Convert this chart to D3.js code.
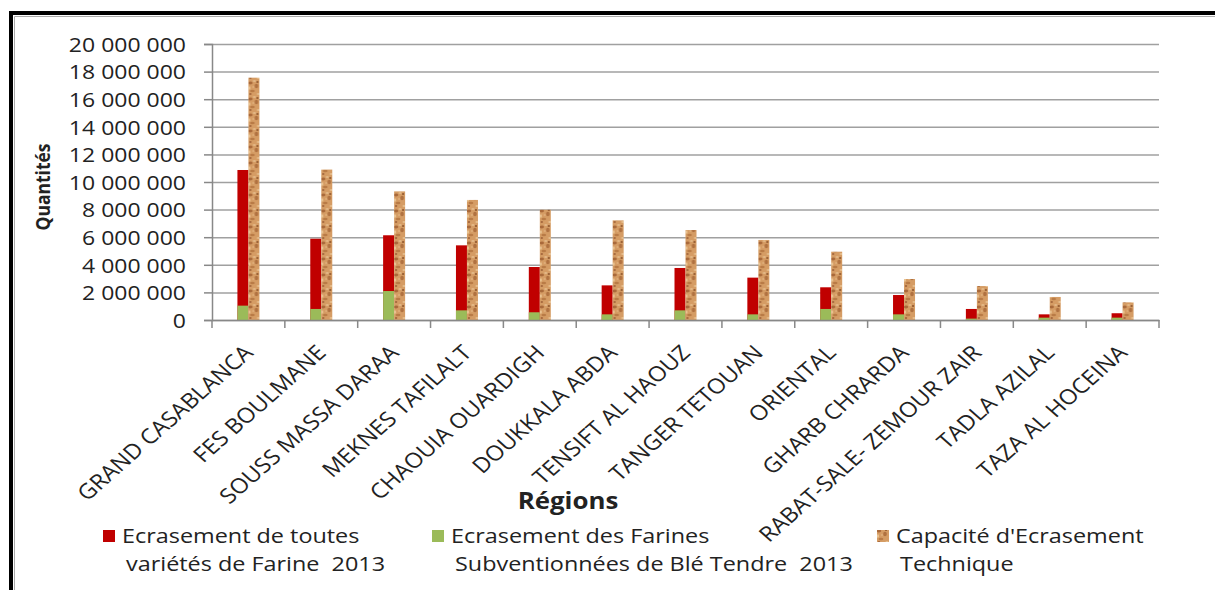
<!DOCTYPE html>
<html>
<head>
<meta charset="utf-8">
<script src="https://cdn.jsdelivr.net/npm/d3@7"></script>
<style>
  body { margin: 0; background: #fff; }
  text { font-family: 'Open Sans', sans-serif; fill: #222; white-space: pre; }
</style>
</head>
<body>
<svg id="chart" width="1215" height="590"></svg>
<script>
// data
const regions = ['GRAND CASABLANCA', 'FES BOULMANE', 'SOUSS MASSA DARAA', 'MEKNES TAFILALT',
  'CHAOUIA OUARDIGH', 'DOUKKALA ABDA', 'TENSIFT AL HAOUZ', 'TANGER TETOUAN', 'ORIENTAL',
  'GHARB CHRARDA', 'RABAT-SALE- ZEMOUR ZAIR', 'TADLA AZILAL', 'TAZA AL HOCEINA'];
const ecrasementToutes = [10870000, 5890000, 6140000, 5410000, 3840000, 2510000, 3770000,
  3070000, 2370000, 1810000, 800000, 410000, 490000];
const ecrasementSubv = [1040000, 800000, 2100000, 700000, 560000, 410000, 700000,
  410000, 800000, 410000, 100000, 170000, 170000];
const capacite = [17560000, 10900000, 9320000, 8700000, 7990000, 7220000, 6520000,
  5800000, 4950000, 2970000, 2460000, 1670000, 1280000];
const yTicks = d3.range(0, 20000001, 2000000);
const legendLabels = [
  ['Ecrasement de toutes', 'variétés de Farine  2013'],
  ['Ecrasement des Farines', 'Subventionnées de Blé Tendre  2013'],
  ["Capacité d'Ecrasement", 'Technique']
];

const SX = 1.13; // the whole source picture is stretched sideways
const plotL = 212, plotR = 1159, plotT = 44, plotB = 320;

const svg = d3.select('#chart');
const defs = svg.append('defs');

// cork-like texture for the capacity bars
const cork = defs.append('pattern')
  .attr('id', 'cork')
  .attr('patternUnits', 'userSpaceOnUse')
  .attr('width', 12).attr('height', 16);
cork.append('rect').attr('width', 12).attr('height', 16).attr('fill', '#d59c64');
[[2, 3, 2.2, 1.4, '#a9693a'], [8, 6, 1.8, 2.2, '#b07140'], [4, 11, 2.4, 1.3, '#b97b46'],
 [10, 14, 1.6, 1.1, '#e7bf8d'], [6, 1, 1.7, 1, '#e4b987'], [1, 8, 1.1, 1.8, '#e9c290'],
 [9, 2, 1.1, 1, '#8f552c'], [5, 7, 1, 1, '#e0b07c'], [2, 14, 1.2, 1, '#a2643a']]
  .forEach(([cx, cy, rx, ry, c]) => {
    cork.append('ellipse').attr('cx', cx).attr('cy', cy).attr('rx', rx).attr('ry', ry).attr('fill', c);
  });

svg.append('rect').attr('width', 1215).attr('height', 590).attr('fill', '#fff');

// frame (top and left only are visible)
svg.append('path').attr('d', 'M11,590V13H1215').attr('fill', 'none')
  .attr('stroke', '#000').attr('stroke-width', 4);
svg.append('path').attr('d', 'M14.5,590V16.5H1215').attr('fill', 'none')
  .attr('stroke', '#aaa').attr('stroke-width', 1);

const x = d3.scaleBand().domain(regions).range([plotL, plotR]).padding(0);
const y = d3.scaleLinear().domain([0, 20000000]).range([plotB, plotT]);
const slot = d3.scaleBand().domain(['a', 'b']).range([-11, 11]);

// gridlines
svg.append('g')
  .attr('transform', `translate(${plotL},0)`)
  .call(d3.axisLeft(y).tickValues(yTicks).tickSize(-(plotR - plotL)).tickFormat(''))
  .call(g => g.select('.domain').remove())
  .call(g => g.selectAll('line').attr('stroke', '#a0a0a0').attr('stroke-width', 1.5));

// y axis
const fmt = v => d3.format(',')(v).replace(/,/g, ' ');
svg.append('g')
  .attr('transform', `translate(${plotL},0)`)
  .call(d3.axisLeft(y).tickValues(yTicks).tickSize(8).tickFormat(fmt))
  .call(g => g.select('.domain').attr('stroke', '#888').attr('stroke-width', 1.5))
  .call(g => g.selectAll('line').attr('stroke', '#888').attr('stroke-width', 1.5))
  .call(g => g.selectAll('text')
    .attr('x', 0)
    .attr('dy', '0.36em')
    .attr('transform', 'translate(-26,0) scale(1.15,1)')
    .style('font-family', "'Open Sans', sans-serif")
    .style('font-size', '20px')
    .attr('fill', '#222'));

// bars
const cat = svg.append('g');
const groups = cat.selectAll('g').data(regions).join('g')
  .attr('transform', d => `translate(${x(d) + x.bandwidth() / 2},0)`);

groups.append('rect')
  .attr('x', slot('a')).attr('width', slot.bandwidth())
  .attr('y', (d, i) => y(ecrasementToutes[i]))
  .attr('height', (d, i) => y(0) - y(ecrasementToutes[i]))
  .attr('fill', '#c00000');
groups.append('rect')
  .attr('x', slot('a')).attr('width', slot.bandwidth())
  .attr('y', (d, i) => y(ecrasementSubv[i]))
  .attr('height', (d, i) => y(0) - y(ecrasementSubv[i]))
  .attr('fill', '#9bbb59');
groups.append('rect')
  .attr('x', slot('b')).attr('width', slot.bandwidth())
  .attr('y', (d, i) => y(capacite[i]))
  .attr('height', (d, i) => y(0) - y(capacite[i]))
  .attr('fill', 'url(#cork)');

// x axis; labels rotated, then stretched sideways like the source
const xAxis = svg.append('g')
  .attr('transform', `translate(0,${plotB})`)
  .call(d3.axisBottom(x).tickSize(0).tickPadding(0));
xAxis.select('.domain').attr('stroke', '#888').attr('stroke-width', 1.5);
xAxis.selectAll('text')
  .attr('text-anchor', 'end')
  .attr('y', 0).attr('dy', 0)
  .attr('transform', `translate(6,34) scale(${SX},1) rotate(-45)`)
  .style('font-family', "'Open Sans', sans-serif")
  .style('font-size', '21px')
  .attr('fill', '#222');
xAxis.selectAll('.bound').data(d3.range(regions.length + 1)).join('line')
  .attr('class', 'bound')
  .attr('x1', i => plotL + i * x.step()).attr('x2', i => plotL + i * x.step())
  .attr('y1', 0).attr('y2', 8)
  .attr('stroke', '#888').attr('stroke-width', 1.5);

// axis titles
svg.append('text')
  .attr('transform', `translate(50,187) scale(${SX},1) rotate(-90)`)
  .attr('text-anchor', 'middle')
  .style('font-weight', 'bold').style('font-size', '17.5px')
  .text('Quantités');
svg.append('text')
  .attr('transform', 'translate(568,509) scale(1.1,1)')
  .attr('text-anchor', 'middle')
  .style('font-weight', 'bold').style('font-size', '23.5px')
  .text('Régions');

// legend
const legendX = [103, 432, 877];
const legendFill = ['#c00000', '#9bbb59', 'url(#cork)'];
const leg = svg.append('g').selectAll('g').data(legendLabels).join('g')
  .attr('transform', (d, i) => `translate(${legendX[i]},0)`);
leg.append('rect').attr('x', 0).attr('y', 530).attr('width', 12).attr('height', 12)
  .attr('fill', (d, i) => legendFill[i]);
leg.append('text')
  .attr('transform', 'translate(19,543) scale(1.17,1)')
  .style('font-size', '20px')
  .text(d => d[0]);
leg.append('text')
  .attr('transform', 'translate(23,571) scale(1.17,1)')
  .style('font-size', '20px')
  .text(d => d[1]);
</script>
</body>
</html>
